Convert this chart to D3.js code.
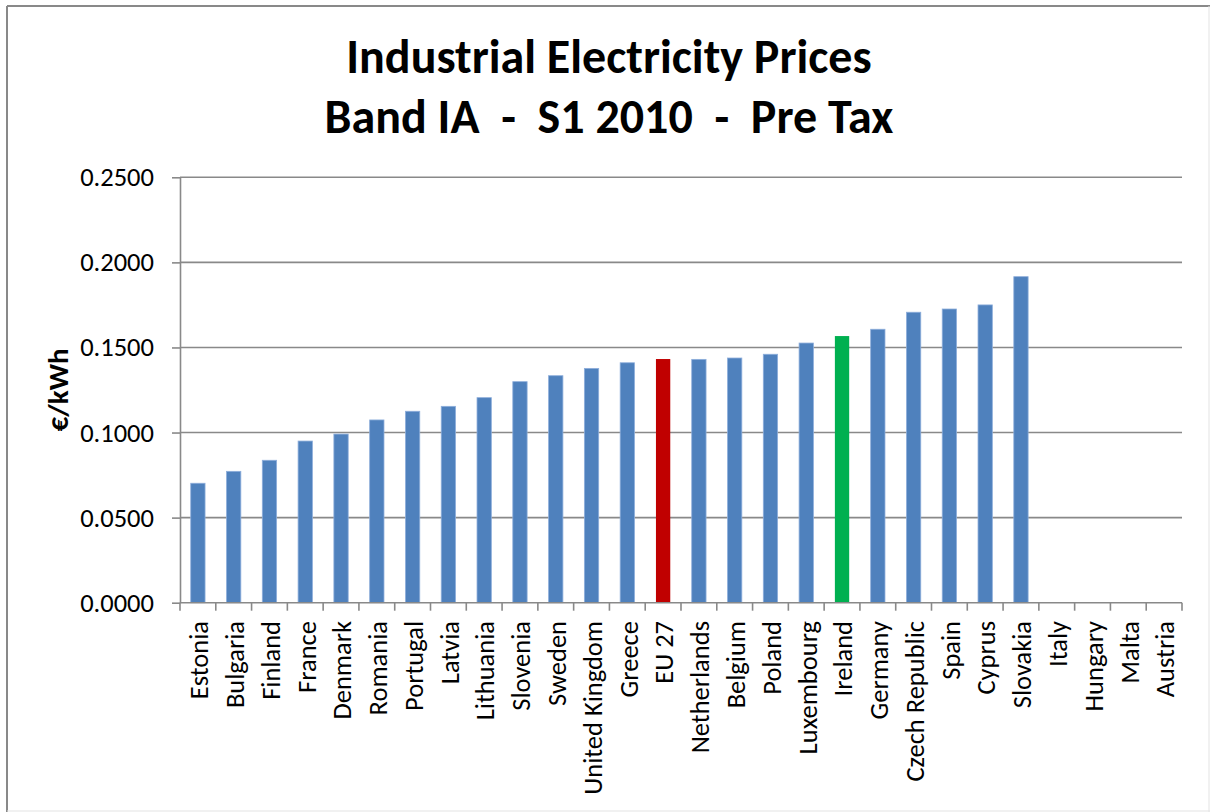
<!DOCTYPE html>
<html>
<head>
<meta charset="utf-8">
<script src="https://cdn.jsdelivr.net/npm/d3@7"></script>
<style>
  html, body { margin: 0; padding: 0; background: #ffffff; }
  svg { display: block; }
  text { font-family: Carlito, Calibri, Lato, "Open Sans", sans-serif; fill: #000; }
  .title { white-space: pre; }
</style>
</head>
<body>
<svg id="chart" width="1210" height="812"></svg>
<script>
// Band IA industrial electricity prices, first half of 2010, excluding taxes (€/kWh)
const countries = [
  "Estonia", "Bulgaria", "Finland", "France", "Denmark", "Romania", "Portugal",
  "Latvia", "Lithuania", "Slovenia", "Sweden", "United Kingdom", "Greece", "EU 27",
  "Netherlands", "Belgium", "Poland", "Luxembourg", "Ireland", "Germany",
  "Czech Republic", "Spain", "Cyprus", "Slovakia", "Italy", "Hungary", "Malta", "Austria"
];
const prices = [
  0.0702, 0.0772, 0.0837, 0.0950, 0.0991, 0.1074, 0.1125,
  0.1154, 0.1205, 0.1299, 0.1334, 0.1377, 0.1410, 0.1432,
  0.1430, 0.1438, 0.1460, 0.1526, 0.1567, 0.1607,
  0.1707, 0.1726, 0.1750, 0.1916, null, null, null, null
];
const yTicks = [0, 0.05, 0.10, 0.15, 0.20, 0.25];
const titleLines = ["Industrial Electricity Prices", "Band IA  -  S1 2010  -  Pre Tax"];
const yAxisTitle = "€/kWh";
const averageLabel = "EU 27";
const focusLabel = "Ireland";

const svg = d3.select("#chart");
const W = 1210, H = 812;
const plot = { left: 180, right: 1182, top: 177.3, bottom: 602.7 };
const gridColor = "#898989";

// outer chart frame
svg.append("rect").attr("width", W).attr("height", H).attr("fill", "#fff");
svg.append("line").attr("x1", 7).attr("x2", W).attr("y1", 6).attr("y2", 6)
  .attr("stroke", gridColor).attr("stroke-width", 2);
svg.append("line").attr("x1", 7).attr("x2", 7).attr("y1", 6).attr("y2", H)
  .attr("stroke", gridColor).attr("stroke-width", 2);
svg.append("line").attr("x1", W - 1).attr("x2", W - 1).attr("y1", 6).attr("y2", H)
  .attr("stroke", "#e3e3e3").attr("stroke-width", 1);
svg.append("line").attr("x1", 7).attr("x2", W).attr("y1", H - 1).attr("y2", H - 1)
  .attr("stroke", "#e3e3e3").attr("stroke-width", 1);

const x = d3.scaleBand()
  .domain(countries)
  .range([plot.left, plot.right])
  .paddingInner(0.6)
  .paddingOuter(0.3);

const y = d3.scaleLinear()
  .domain([0, 0.25])
  .range([plot.bottom, plot.top]);

// horizontal gridlines
svg.append("g")
  .selectAll("line")
  .data(yTicks.filter(t => t > 0))
  .join("line")
  .attr("x1", plot.left).attr("x2", plot.right)
  .attr("y1", d => y(d)).attr("y2", d => y(d))
  .attr("stroke", gridColor).attr("stroke-width", 1.6);

// value axis
const yAxis = svg.append("g")
  .attr("transform", `translate(${plot.left},0)`)
  .call(d3.axisLeft(y).tickValues(yTicks).tickFormat(d3.format(".4f")).tickSizeInner(8).tickSizeOuter(0).tickPadding(18));
yAxis.select(".domain").attr("stroke", gridColor).attr("stroke-width", 1.6);
yAxis.selectAll(".tick line").attr("stroke", gridColor).attr("stroke-width", 1.6);
yAxis.selectAll(".tick text")
  .attr("font-size", 26.5)
  .attr("font-family", null)
  .attr("fill", "#000");

// bars
const colorFor = name => name === averageLabel ? "#C00000" : name === focusLabel ? "#00B050" : "#4F81BD";
const series = countries.map((c, i) => ({ country: c, price: prices[i] }));
svg.append("g")
  .selectAll("rect")
  .data(series.filter(d => d.price != null))
  .join("rect")
  .attr("x", d => x(d.country))
  .attr("width", x.bandwidth())
  .attr("y", d => y(d.price))
  .attr("height", d => y(0) - y(d.price))
  .attr("fill", d => colorFor(d.country))
  .attr("stroke", d => colorFor(d.country) === "#4F81BD" ? "#8EAEDB" : "none")
  .attr("stroke-width", 0.8);

// category axis with tick marks between categories
const step = x.step();
const boundaries = d3.range(countries.length + 1).map(i => plot.left + i * step);
const xg = svg.append("g");
xg.append("line")
  .attr("x1", plot.left).attr("x2", plot.right)
  .attr("y1", plot.bottom).attr("y2", plot.bottom)
  .attr("stroke", gridColor).attr("stroke-width", 1.6);
xg.selectAll("line.tick")
  .data(boundaries)
  .join("line")
  .attr("class", "tick")
  .attr("x1", d => d).attr("x2", d => d)
  .attr("y1", plot.bottom).attr("y2", plot.bottom + 8)
  .attr("stroke", gridColor).attr("stroke-width", 1.6);
xg.selectAll("text")
  .data(countries)
  .join("text")
  .attr("transform", d => `translate(${x(d) + x.bandwidth() / 2 + 1},621) rotate(-90)`)
  .attr("text-anchor", "end")
  .attr("dy", "0.35em")
  .attr("font-size", 26.5)
  .text(d => d);

// axis title
svg.append("text")
  .attr("transform", `translate(58,${(plot.top + plot.bottom) / 2}) rotate(-90)`)
  .attr("text-anchor", "middle")
  .attr("dy", "0.35em")
  .attr("font-size", 29)
  .attr("font-weight", "bold")
  .text(yAxisTitle);

// chart title
svg.append("g")
  .selectAll("text")
  .data(titleLines)
  .join("text")
  .attr("class", "title")
  .attr("x", 609)
  .attr("y", (d, i) => 73 + i * 60)
  .attr("text-anchor", "middle")
  .attr("font-size", 48)
  .attr("font-weight", "bold")
  .text(d => d);
</script>
</body>
</html>
